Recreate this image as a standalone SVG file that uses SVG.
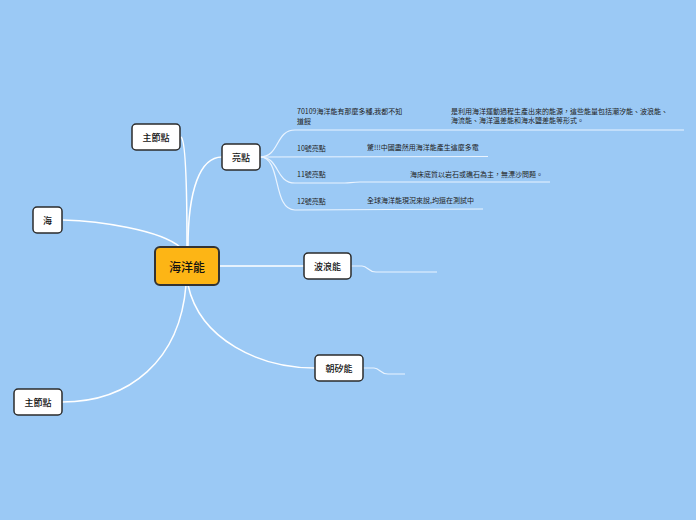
<svg xmlns="http://www.w3.org/2000/svg" width="696" height="520" viewBox="0 0 696 520">
<style>
.bg{fill:#9BC9F5}
.node rect{fill:#ffffff;stroke:#2b2b2b;stroke-width:1.5}
.node text{font-family:"Noto Sans CJK TC","Noto Sans CJK SC",sans-serif;font-size:9px;font-weight:500;fill:#111;text-anchor:middle;dominant-baseline:central}
.root rect{fill:#FDB515;stroke:#333;stroke-width:2}
.root text{font-size:12px}
.links path{fill:none;stroke:#ffffff;stroke-width:1.5}
.links .thin{stroke-width:1.2;stroke:#eaf4ff}
.sub{font-family:"Noto Sans CJK TC","Noto Sans CJK SC",sans-serif;font-size:7px;fill:#222}
</style>
<rect class="bg" x="0" y="0" width="696" height="520"/>
<g id="connectors" class="links">
<path d="M187,247 C187,190 186,140 181,137"/>
<path d="M188,247 C188,190 200,157 222,157"/>
<path d="M180,247 C160,230 100,221 63,220"/>
<path d="M186,285 C180,360 130,402 62,402"/>
<path d="M219,266 L304,266"/>
<path d="M188,285 C200,340 260,368 315,368"/>
<path class="thin" d="M351,266 L362,266 C368,266 368,272 376,272 L437,272"/>
<path class="thin" d="M363,368 L374,368 C380,368 380,374 388,374 L405,374"/>
<path class="thin" d="M260,157 C280,157 275,130 295,130 L684,130"/>
<path class="thin" d="M260,157 L488,156.5"/>
<path class="thin" d="M260,157 C280,157 275,183 295,183 L345,183 C350,183 352,182 360,182 L550,182"/>
<path class="thin" d="M260,157 C282,157 272,210 295,210 L483,209"/>
</g>
<g id="root" class="node root"><rect x="155" y="247" width="64" height="38" rx="5"/><text x="187" y="266">海洋能</text></g>
<g id="n-main-top" class="node"><rect x="132" y="124" width="48" height="26" rx="4"/><text x="156" y="137">主節點</text></g>
<g id="n-highlight" class="node"><rect x="222" y="144" width="38" height="26" rx="4"/><text x="241" y="157">亮點</text></g>
<g id="n-sea" class="node"><rect x="33" y="207" width="29" height="26" rx="4"/><text x="47.5" y="220">海</text></g>
<g id="n-main-bottom" class="node"><rect x="14" y="389" width="48" height="26" rx="4"/><text x="38" y="402">主節點</text></g>
<g id="n-wave" class="node"><rect x="304" y="253" width="47" height="26" rx="4"/><text x="327.5" y="266">波浪能</text></g>
<g id="n-tide" class="node"><rect x="315" y="355" width="48" height="26" rx="4"/><text x="339" y="368">朝矽能</text></g>
<g id="t-70109"><text class="sub" x="297" y="114">70109海洋能有那麼多種,我都不知</text><text class="sub" x="297" y="124">道餒</text></g>
<g id="t-def"><text class="sub" x="451" y="114">是利用海洋運動過程生產出來的能源，這些能量包括潮汐能、波浪能、</text><text class="sub" x="451" y="123">海流能、海洋溫差能和海水鹽差能等形式。</text></g>
<g id="t-10"><text class="sub" x="297" y="151">10號亮點</text></g>
<g id="t-10d"><text class="sub" x="367" y="150">驚!!!中國盡然用海洋能產生這麼多電</text></g>
<g id="t-11"><text class="sub" x="297" y="177">11號亮點</text></g>
<g id="t-11d"><text class="sub" x="410" y="177">海床底質以岩石或礁石為主，無漂沙問題。</text></g>
<g id="t-12"><text class="sub" x="297" y="204">12號亮點</text></g>
<g id="t-12d"><text class="sub" x="367" y="203">全球海洋能現況來說,均還在測試中</text></g>
</svg>
